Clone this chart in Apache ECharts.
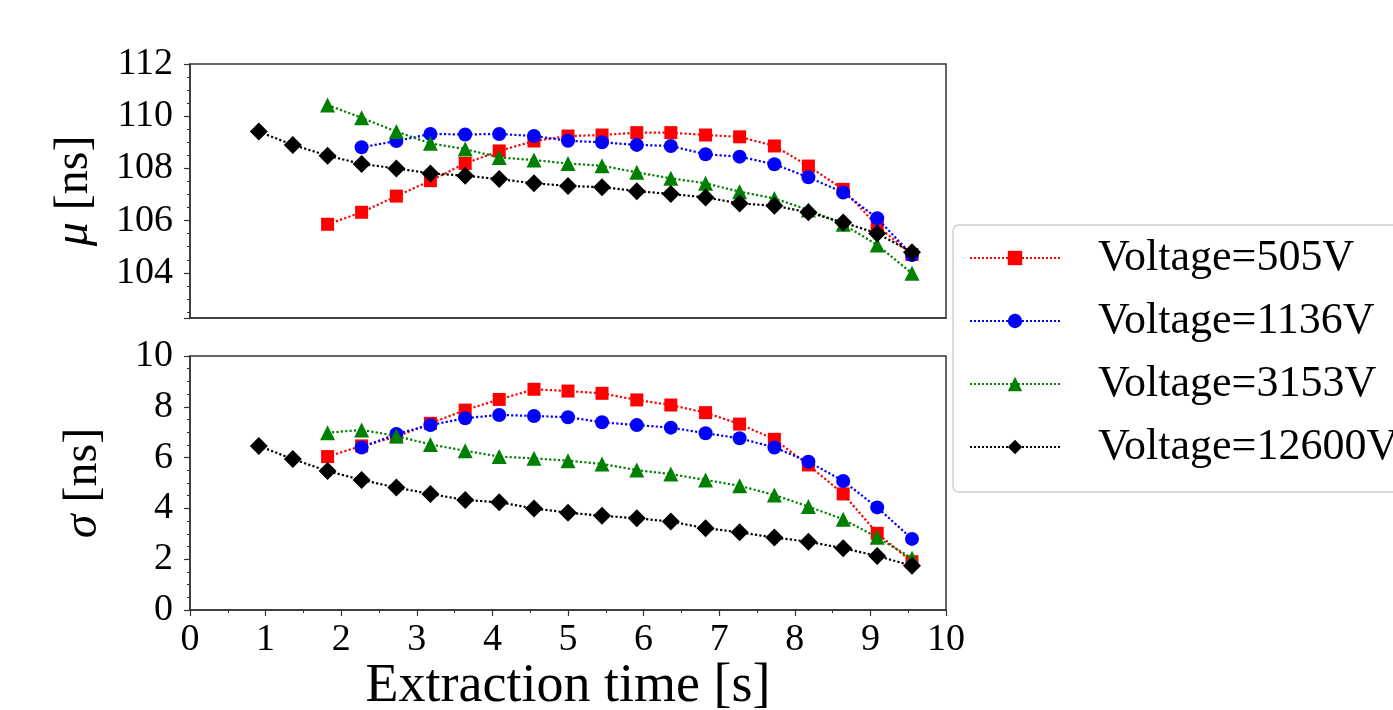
<!DOCTYPE html>
<html lang="en">
<head>
<meta charset="UTF-8" />
<title>Extraction time</title>
<script src="https://cdn.jsdelivr.net/npm/echarts@6/dist/echarts.min.js"></script>
</head>
<body style="margin:0;background:#fff">
<div id="main" style="width:1393px;height:710px;"></div>
<script>
var FONT = "Liberation Serif";

// extraction times [s]
var times = [0.91, 1.36, 1.82, 2.27, 2.73, 3.18, 3.64, 4.09, 4.55, 5.00,
             5.45, 5.91, 6.36, 6.82, 7.27, 7.73, 8.18, 8.64, 9.09, 9.55];

var names = ["Voltage=505V", "Voltage=1136V", "Voltage=3153V", "Voltage=12600V"];

// mu [ns]
var mu505   = [null, null, 105.86, 106.32, 106.94, 107.53, 108.19, 108.67, 109.05, 109.24,
               109.28, 109.37, 109.37, 109.28, 109.21, 108.86, 108.09, 107.20, 105.80, 104.70];
var mu1136  = [null, null, null, 108.81, 109.05, 109.32, 109.30, 109.32, 109.24, 109.06,
               109.00, 108.90, 108.86, 108.54, 108.45, 108.16, 107.66, 107.08, 106.09, 104.68];
var mu3153  = [null, null, 110.43, 109.94, 109.41, 108.96, 108.74, 108.42, 108.32, 108.19,
               108.10, 107.85, 107.62, 107.43, 107.11, 106.85, 106.41, 105.86, 105.07, 103.98];
var mu12600 = [109.41, 108.90, 108.49, 108.17, 108.00, 107.81, 107.72, 107.59, 107.43, 107.33,
               107.28, 107.13, 107.02, 106.89, 106.66, 106.57, 106.32, 105.93, 105.51, 104.79];

// sigma [ns]
var sg505   = [null, null, 6.04, 6.46, 6.82, 7.35, 7.87, 8.29, 8.69, 8.62,
               8.53, 8.27, 8.07, 7.77, 7.32, 6.72, 5.71, 4.57, 3.02, 1.90];
var sg1136  = [null, null, null, 6.40, 6.93, 7.28, 7.55, 7.68, 7.64, 7.59,
               7.39, 7.28, 7.18, 6.96, 6.76, 6.40, 5.84, 5.08, 4.04, 2.80];
var sg3153  = [null, null, 6.98, 7.09, 6.85, 6.52, 6.27, 6.04, 5.97, 5.88,
               5.75, 5.51, 5.35, 5.12, 4.89, 4.53, 4.07, 3.57, 2.86, 2.04];
var sg12600 = [6.46, 5.94, 5.47, 5.12, 4.82, 4.57, 4.33, 4.24, 4.00, 3.83,
               3.71, 3.61, 3.48, 3.22, 3.06, 2.85, 2.69, 2.43, 2.13, 1.74];

var colors  = ["#ff0000", "#0000ff", "#008000", "#000000"];
var symbols = ["rect", "circle", "triangle", "diamond"];
var sizes   = [13, 14, 15, 18];

function pairs(arr) {
  var out = [];
  for (var i = 0; i < times.length; i++) {
    if (arr[i] != null) out.push([times[i], arr[i]]);
  }
  return out;
}

function mkSeries(k, arr, idx) {
  return {
    name: names[k],
    type: "line",
    xAxisIndex: idx,
    yAxisIndex: idx,
    data: pairs(arr),
    symbol: symbols[k],
    symbolSize: sizes[k],
    showAllSymbol: true,
    color: colors[k],
    itemStyle: { color: colors[k] },
    lineStyle: { color: colors[k], type: "dotted", width: 2.2 },
    animation: false,
    z: 2 + k
  };
}

var tickText = { fontFamily: FONT, fontSize: 38, color: "#000" };
var axisLn = { show: true, lineStyle: { color: "#333", width: 1.5 } };
var nameText = {
  fontFamily: FONT, fontSize: 48, color: "#000",
  rich: { i: { fontFamily: FONT, fontStyle: "italic", fontSize: 48, color: "#000" } }
};

var myChart = echarts.init(document.getElementById("main"));
var option = {
  backgroundColor: "#fff",
  animation: false,
  grid: [
    { left: 190, top: 64, width: 756, height: 254, show: true, borderColor: "#333", borderWidth: 1.5,
      outerBoundsMode: "none", containLabel: false },
    { left: 190, top: 356, width: 756, height: 254, show: true, borderColor: "#333", borderWidth: 1.5,
      outerBoundsMode: "none", containLabel: false }
  ],
  xAxis: [
    {
      type: "value", gridIndex: 0, min: 0, max: 10, interval: 1,
      axisLine: axisLn, axisTick: { show: false }, axisLabel: { show: false },
      splitLine: { show: false }
    },
    {
      type: "value", gridIndex: 1, min: 0, max: 10, interval: 1,
      axisLine: axisLn,
      axisTick: { show: true, length: 6, lineStyle: { color: "#333", width: 1.2 } },
      minorTick: { show: true, splitNumber: 2, length: 3, lineStyle: { color: "#333" } },
      axisLabel: Object.assign({ margin: 11 }, tickText),
      splitLine: { show: false },
      name: "Extraction time [s]",
      nameLocation: "middle",
      nameGap: 44,
      nameTextStyle: { fontFamily: FONT, fontSize: 54, color: "#000" }
    }
  ],
  yAxis: [
    {
      type: "value", gridIndex: 0, min: 102.27, max: 112,
      axisLine: axisLn,
      axisTick: { show: true, length: 6, lineStyle: { color: "#333", width: 1.2 } },
      minorTick: { show: true, splitNumber: 4, length: 3, lineStyle: { color: "#333" } },
      axisLabel: Object.assign({ margin: 17, showMinLabel: false }, tickText),
      splitLine: { show: false },
      name: "{i|μ} [ns]",
      nameLocation: "middle",
      nameGap: 92,
      nameTextStyle: nameText
    },
    {
      type: "value", gridIndex: 1, min: 0, max: 10, interval: 2,
      axisLine: axisLn,
      axisTick: { show: true, length: 6, lineStyle: { color: "#333", width: 1.2 } },
      minorTick: { show: true, splitNumber: 4, length: 3, lineStyle: { color: "#333" } },
      axisLabel: Object.assign({ margin: 17 }, tickText),
      splitLine: { show: false },
      name: "{i|σ} [ns]",
      nameLocation: "middle",
      nameGap: 83,
      nameTextStyle: nameText
    }
  ],
  legend: {
    data: names,
    orient: "vertical",
    left: 953,
    top: 225,
    padding: [10, 20, 22, 16],
    itemWidth: 90,
    itemHeight: 18,
    itemGap: 17,
    backgroundColor: "#fff",
    borderColor: "#d0d0d0",
    borderWidth: 1.5,
    borderRadius: 6,
    textStyle: { fontFamily: FONT, fontSize: 44, color: "#000", lineHeight: 46, padding: [0, 0, 0, 33] }
  },
  series: [
    mkSeries(0, mu505, 0), mkSeries(1, mu1136, 0), mkSeries(2, mu3153, 0), mkSeries(3, mu12600, 0),
    mkSeries(0, sg505, 1), mkSeries(1, sg1136, 1), mkSeries(2, sg3153, 1), mkSeries(3, sg12600, 1)
  ]
};
myChart.setOption(option);
</script>
</body>
</html>
